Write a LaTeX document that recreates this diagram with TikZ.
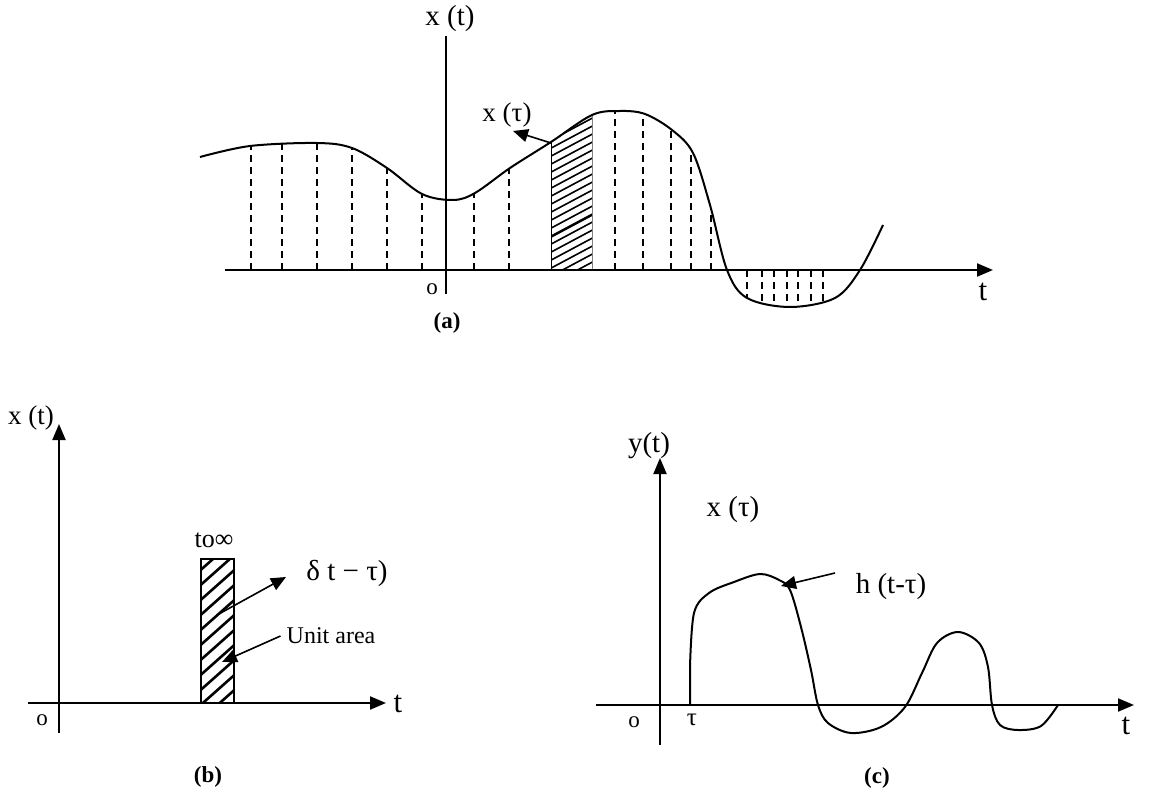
\documentclass[tikz,border=0pt]{standalone}
\usepackage{fontspec}
\setmainfont{Liberation Serif}
\usetikzlibrary{arrows.meta}
\tikzset{
  axisarrow/.style={line width=2pt,-{Triangle[length=16pt,width=13pt]}},
  axisline/.style={line width=2pt},
  curveline/.style={line width=2pt,line join=round},
  dropline/.style={line width=1.6pt,dash pattern=on 7pt off 5pt},
  pointer/.style={line width=1.6pt,-{Triangle[length=15pt,width=13pt]}},
  hatchline/.style={line width=1.6pt},
  lbl/.style={inner sep=0pt,font=\fontsize{29}{32}\selectfont},
  biglbl/.style={inner sep=0pt,font=\fontsize{31}{34}\selectfont},
  smalllbl/.style={inner sep=0pt,font=\fontsize{23}{26}\selectfont},
  caplbl/.style={inner sep=0pt,font=\fontsize{23}{26}\selectfont\bfseries},
}
\begin{document}
\begin{tikzpicture}[x=1pt,y=-1pt]
\useasboundingbox (0,0) rectangle (1151,794);
% ================= panel (a) =================
\coordinate (aL) at (225,270);
\coordinate (aR) at (993,270);
\coordinate (aYb) at (446,294);
\coordinate (aYt) at (446,36);
\def\acurve{(200,157) (250,146) (317,143) (352,148) (387,168) (422,194) (453,200) (475,193) (510,168) (551,142) (592,115) (620,111) (645,114) (672,130) (693,153) (710,205) (727,270) (747,298) (790,307) (835,298) (860,270) (883,225)}
% dashed drop lines clipped to the region between curve and axis
\begin{scope}
  \clip plot[smooth,tension=0.55] coordinates {\acurve} -- (883,270) -- (200,270) -- cycle;
  \foreach \xx in {251,282,317,352,387,422,474,509,615,643,671,691,711}
    \draw[dropline] (\xx,270) -- (\xx,90);
  \foreach \xx in {747,762,774,787,798,811,823}
    \draw[dropline] (\xx,270) -- (\xx,320);
  % hatched strip
  \clip (551,90) rectangle (592,270);
  \foreach \yy in {130,138,...,330}
    \draw[hatchline] (540,\yy) -- (600,\yy-32);
  \draw[hatchline] (540,243) -- (600,211);
\end{scope}
\draw[line width=1pt] (551,270) -- (551,142);
\draw[line width=1pt,gray] (592,270) -- (592,115);
\draw[curveline] plot[smooth,tension=0.55] coordinates {\acurve};
\draw[axisarrow] (aL) -- (aR);
\draw[axisline] (aYb) -- (aYt);
\node[lbl] (axt) at (450,19) {x (t)};
\node[lbl,font=\fontsize{27}{30}\selectfont] (axtau) at (507,115) {x (τ)};
\coordinate (axtausrc) at (551,143);
\coordinate (axtautip) at (513,131);
\draw[pointer] (axtausrc) -- (axtautip);
\node[smalllbl] (ao) at (432,289) {o};
\node[biglbl] (at) at (983,292) {t};
\node[caplbl] (acap) at (447,323) {(a)};
% ================= panel (b) =================
\coordinate (bL) at (28,703);
\coordinate (bR) at (386,703);
\coordinate (bYb) at (59,733);
\coordinate (bYt) at (59,424);
\draw[axisarrow] (bL) -- (bR);
\draw[axisarrow] (bYb) -- (bYt);
\node[lbl,font=\fontsize{27}{30}\selectfont] (bxt) at (31,418) {x (t)};
\node[smalllbl] (bo) at (42,720) {o};
\node[biglbl] (bt) at (398,704) {t};
\begin{scope}
  \clip (201,559) rectangle (234,703);
  \foreach \yy in {560,575,...,770}
    \draw[line width=2.6pt] (195,\yy) -- (240,\yy-40);
\end{scope}
\draw[line width=1.6pt] (201,559) rectangle (234,703);
\node[inner sep=0pt,font=\fontsize{26}{28}\selectfont] (binf) at (214,540) {to∞};
\node[lbl] (bdelta) at (347,573) {δ t − τ)};
\coordinate (bdsrc) at (217,615);
\coordinate (bdtip) at (286,577);
\draw[pointer] (bdsrc) -- (bdtip);
\node[inner sep=0pt,font=\fontsize{24}{27}\selectfont] (bunit) at (331,636) {Unit area};
\coordinate (butip) at (222,662);
\draw[pointer] (bunit.west) ++(-6,0) coordinate (busrc) (busrc) -- (butip);
\node[caplbl] (bcap) at (208,777) {(b)};
% ================= panel (c) =================
\coordinate (cL) at (596,705);
\coordinate (cR) at (1134,705);
\coordinate (cYb) at (660,745);
\coordinate (cYt) at (660,458);
\draw[axisarrow] (cL) -- (cR);
\draw[axisarrow] (cYb) -- (cYt);
\draw[curveline] (690,705) -- plot[smooth,tension=0.55] coordinates {(690,667) (694,613) (709,593) (734,582) (760,574) (779,580) (790,590) (801,627) (811,670) (818,705) (828,723) (851,733) (881,727) (905,707) (922,673) (937,643) (958,632) (979,643) (988,667) (992,705) (1000,725) (1018,730) (1041,726) (1058,705)};
\node[lbl] (cyt) at (649,446) {y(t)};
\node[lbl] (cxtau) at (733,510) {x (τ)};
\node[lbl] (ch) at (891,587) {h (t-τ)};
\coordinate (chsrc) at (835,573);
\coordinate (chtip) at (781,586);
\draw[pointer] (chsrc) -- (chtip);
\node[smalllbl] (co) at (634,722) {o};
\node[lbl,font=\fontsize{25}{28}\selectfont] (ctau) at (692,720) {τ};
\node[biglbl] (ct) at (1126,726) {t};
\node[caplbl] (ccap) at (877,778) {(c)};
\end{tikzpicture}
\end{document}
